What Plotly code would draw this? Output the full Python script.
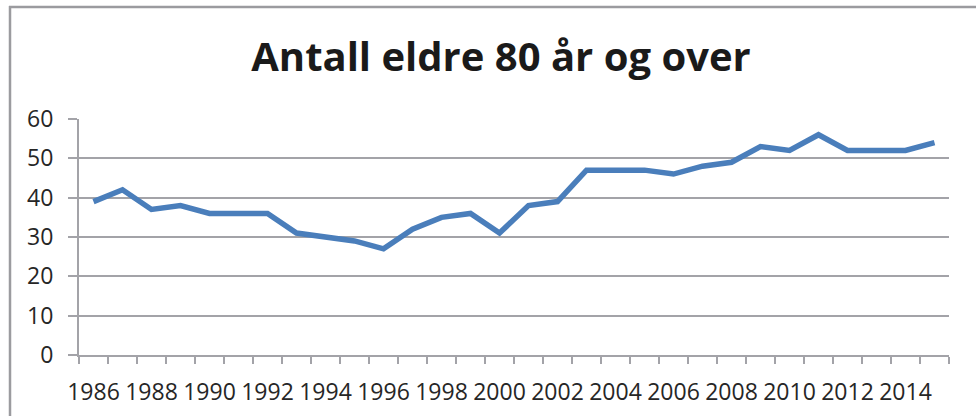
import plotly.graph_objects as go

years = list(range(1986, 2016))
values = [39, 42, 37, 38, 36, 36, 36, 31, 30, 29, 27, 32, 35, 36, 31,
          38, 39, 47, 47, 47, 46, 48, 49, 53, 52, 56, 52, 52, 52, 54]
x_tick_labels = [str(y) for y in range(1986, 2015, 2)]
title_text = "Antall eldre 80 år og over"

W, H = 976, 416
L, R, T, B = 79, 27, 119, 61
pw, ph = W - L - R, H - T - B

def px_x(p):
    return (p - L) / pw

def px_y(p):
    return (H - B - p) / ph

grid = "#a3a3a8"
text_col = "#262626"
font = "Open Sans"
fs = 23

fig = go.Figure()
fig.add_trace(go.Scatter(
    x=years, y=values, mode="lines",
    line=dict(color="#4a7ebb", width=5.5),
    hoverinfo="skip", showlegend=False,
))

fig.update_layout(
    width=W, height=H,
    margin=dict(l=L, r=R, t=T, b=B, pad=0, autoexpand=False),
    paper_bgcolor="white", plot_bgcolor="white",
    font=dict(family=font, color=text_col, size=fs),
    title=dict(text="<b>" + title_text + "</b>", xref="container", x=501 / W,
               xanchor="center", yref="container", y=1 - 57 / H, yanchor="middle",
               font=dict(family=font, size=40, color="#1a1a1a")),
    xaxis=dict(
        range=[1985.5, 2015.5], tickmode="array",
        tickvals=[int(t) for t in x_tick_labels], ticktext=x_tick_labels,
        ticks="", showgrid=False, zeroline=False, tickangle=0, automargin=False,
        showline=True, linecolor=grid, linewidth=2,
        ticklabelstandoff=15,
        minor=dict(tick0=1985.5, dtick=1, ticks="outside", ticklen=7,
                   tickwidth=2, tickcolor=grid, showgrid=False),
        tickfont=dict(size=fs, family=font, color=text_col),
        fixedrange=True,
    ),
    yaxis=dict(
        range=[0, 60], dtick=10, tick0=0, automargin=False,
        showgrid=True, gridcolor=grid, gridwidth=2,
        zeroline=False, showline=True, linecolor=grid, linewidth=2,
        ticks="outside", ticklen=9, tickwidth=2, tickcolor=grid,
        ticklabelstandoff=10,
        tickfont=dict(size=fs, family=font, color=text_col),
        fixedrange=True,
    ),
)

# outer chart frame (top and left edges visible)
fig.add_shape(type="line", xref="paper", yref="paper",
              x0=px_x(9), x1=px_x(990), y0=px_y(7), y1=px_y(7),
              line=dict(color="#9b9b9f", width=2.5))
fig.add_shape(type="line", xref="paper", yref="paper",
              x0=px_x(10), x1=px_x(10), y0=px_y(6), y1=px_y(430),
              line=dict(color="#9b9b9f", width=2.5))

fig.write_html("out.html", config={"displayModeBar": False},
               post_script="document.body.style.margin='0';document.body.style.overflow='hidden';")
